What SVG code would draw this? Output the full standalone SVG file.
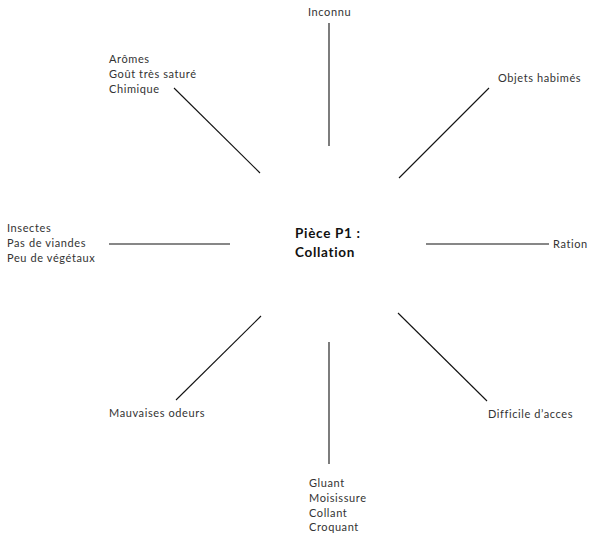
<svg xmlns="http://www.w3.org/2000/svg" width="595" height="540" viewBox="0 0 595 540">
<style>
.l{font-family:Lato,"Noto Sans",sans-serif;font-size:11px;letter-spacing:0.6px;fill:#333}
.c{font-family:Lato,"Noto Sans",sans-serif;font-size:13.5px;letter-spacing:0.7px;font-weight:bold;fill:#111}
.e{stroke:#111;stroke-width:1.1;fill:none}
</style>
<rect width="595" height="540" fill="#fff"/>
<g id="connectors">
<line class="e" x1="329" y1="23" x2="329" y2="146"/>
<line class="e" x1="489" y1="88" x2="399" y2="178"/>
<line class="e" x1="174" y1="88" x2="260" y2="173"/>
<line class="e" x1="109" y1="244" x2="230" y2="244"/>
<line class="e" x1="426" y1="244" x2="549" y2="244"/>
<line class="e" x1="261" y1="316" x2="176" y2="400"/>
<line class="e" x1="329" y1="342" x2="329" y2="464"/>
<line class="e" x1="398" y1="313" x2="487" y2="401"/>
</g>
<g id="center"><text class="c" x="295" y="238">Pièce P1 :</text><text class="c" x="295" y="257">Collation</text></g>
<g id="inconnu"><text class="l" x="308" y="16">Inconnu</text></g>
<g id="objets"><text class="l" x="498" y="82">Objets habimés</text></g>
<g id="aromes"><text class="l" x="109" y="63">Arômes</text><text class="l" x="109" y="78">Goût très saturé</text><text class="l" x="109" y="93">Chimique</text></g>
<g id="insectes"><text class="l" x="7" y="232">Insectes</text><text class="l" x="7" y="247">Pas de viandes</text><text class="l" x="7" y="262">Peu de végétaux</text></g>
<g id="ration"><text class="l" x="553" y="248">Ration</text></g>
<g id="mauvaises"><text class="l" x="109" y="417">Mauvaises odeurs</text></g>
<g id="difficile"><text class="l" x="488" y="418">Difficile d’acces</text></g>
<g id="gluant"><text class="l" x="309" y="487">Gluant</text><text class="l" x="309" y="502">Moisissure</text><text class="l" x="309" y="517">Collant</text><text class="l" x="309" y="531">Croquant</text></g>
</svg>
